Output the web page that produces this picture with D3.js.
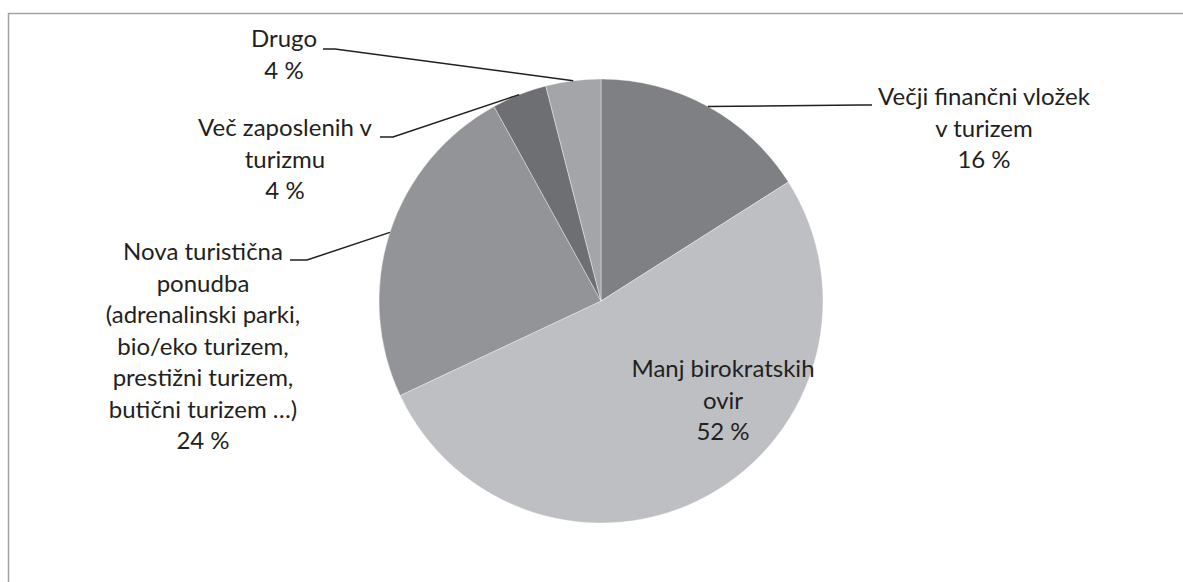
<!DOCTYPE html>
<html>
<head>
<meta charset="utf-8">
<script src="https://cdnjs.cloudflare.com/ajax/libs/d3/7.8.5/d3.min.js"></script>
<style>
    body { margin: 0; background: #fff; }
    .slice-label { font-family: Lato, "Open Sans", sans-serif; font-size: 24px; fill: #231f20; }
</style>
</head>
<body>
<div id="chart"></div>
<script>
// Chart data
const categories = [
    'Večji finančni vložek v turizem',
    'Manj birokratskih ovir',
    'Nova turistična ponudba (adrenalinski parki, bio/eko turizem, prestižni turizem, butični turizem …)',
    'Več zaposlenih v turizmu',
    'Drugo'
];
const shares = [16, 52, 24, 4, 4];

// How each label is broken into lines
const labelLines = [
    ['Večji finančni vložek', 'v turizem'],
    ['Manj birokratskih', 'ovir'],
    ['Nova turistična', 'ponudba', '(adrenalinski parki,', 'bio/eko turizem,', 'prestižni turizem,', 'butični turizem …)'],
    ['Več zaposlenih v', 'turizmu'],
    ['Drugo']
];

// Slice fills
const colors = ['#7f8084', '#bebfc3', '#939498', '#6e6f73', '#a4a5a9'];

// Label placement: text centre, first baseline, leader elbow and end (null = label inside)
const labelLayout = [
    { x: 984, y: 105, elbow: [860, 105], end: [872, 105] },
    { x: 723, y: 377, elbow: null, end: null },
    { x: 203, y: 260, elbow: [307, 260], end: [290, 260] },
    { x: 285, y: 136, elbow: [393, 137], end: [380, 137] },
    { x: 284, y: 47, elbow: [335, 49], end: [323, 49] }
];

const width = 1183;
const height = 582;
const center = { x: 601, y: 301 };
const radius = 222;
const lineHeight = 31.5;

const svg = d3.select('#chart').append('svg')
    .attr('width', width)
    .attr('height', height);

// chart area border (runs off the right and bottom of the picture)
svg.append('rect')
    .attr('x', 8.5)
    .attr('y', 13.5)
    .attr('width', 1300)
    .attr('height', 700)
    .attr('fill', 'none')
    .attr('stroke', '#a3a3a3')
    .attr('stroke-width', 1.5);

const data = categories.map((c, i) => ({ name: c, value: shares[i], lines: labelLines[i], i: i }));

const pie = d3.pie().sort(null).value(d => d.value);
const arc = d3.arc().innerRadius(0).outerRadius(radius);
const arcs = pie(data);

const g = svg.append('g')
    .attr('transform', `translate(${center.x}, ${center.y})`);

g.selectAll('path.slice')
    .data(arcs)
    .enter()
    .append('path')
    .attr('class', 'slice')
    .attr('d', arc)
    .attr('fill', d => colors[d.data.i])
    .attr('stroke', '#ffffff')
    .attr('stroke-opacity', 0.5)
    .attr('stroke-width', 0.75);

// leader lines from the slice edge to the label
arcs.forEach(d => {
    let lay = labelLayout[d.data.i];
    if (!lay.elbow) return;
    let mid = (d.startAngle + d.endAngle) / 2;
    let ex = center.x + radius * Math.sin(mid);
    let ey = center.y - radius * Math.cos(mid);
    svg.append('polyline')
        .attr('points', [[ex, ey], lay.elbow, lay.end].map(p => p.join(',')).join(' '))
        .attr('fill', 'none')
        .attr('stroke', '#231f20')
        .attr('stroke-width', 1.5);
});

// labels
arcs.forEach(d => {
    let lay = labelLayout[d.data.i];
    let lines = d.data.lines.concat([d.data.value + ' %']);
    let text = svg.append('text')
        .attr('class', 'slice-label')
        .attr('text-anchor', 'middle');
    lines.forEach((l, k) => {
        text.append('tspan')
            .attr('x', lay.x)
            .attr('y', lay.y + k * lineHeight)
            .text(l);
    });
});
</script>
</body>
</html>
